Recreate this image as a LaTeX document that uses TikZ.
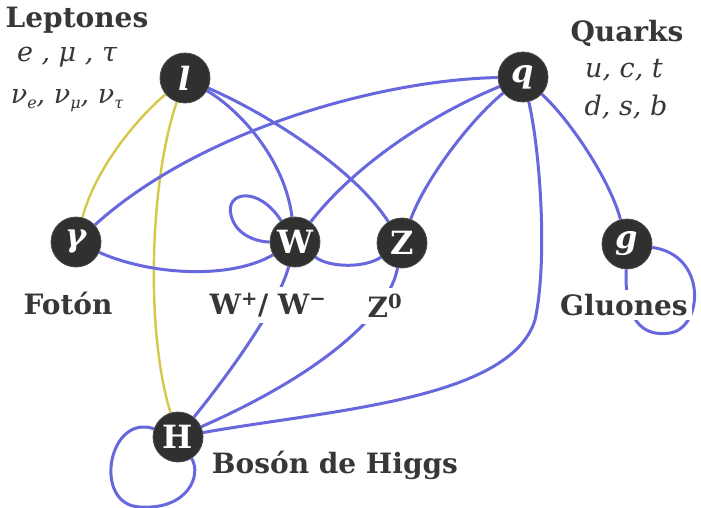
\documentclass[tikz,border=0pt]{standalone}
\usepackage{fontspec}
\setmainfont{DejaVu Serif}
\usetikzlibrary{backgrounds}
\definecolor{edgeblue}{RGB}{104,104,222}
\definecolor{edgeyellow}{RGB}{214,200,72}
\definecolor{nodefill}{RGB}{48,48,48}
\definecolor{labelgray}{RGB}{55,55,55}
\begin{document}
\begin{tikzpicture}[x=1pt,y=-1pt,
  particle/.style={circle, fill=nodefill, draw=gray!60!black, line width=0.8pt,
    minimum size=50pt, inner sep=0pt, text=white,
    font=\fontsize{32}{32}\selectfont\bfseries},
  title/.style={text=labelgray, font=\fontsize{28}{30}\selectfont\bfseries,
    fill=white, inner sep=4pt},
  members/.style={text=labelgray, font=\fontsize{27}{28}\selectfont\itshape, inner sep=1pt},
  blueline/.style={draw=edgeblue, line width=3pt},
  yellowline/.style={draw=edgeyellow, line width=2.4pt}]
\useasboundingbox (0,0) rectangle (701,508);

% particles
\node[particle] (l) at (185,78) {\itshape l};
\node[particle] (q) at (523,77) {\itshape q};
\node[particle] (gamma) at (76,242) {\itshape γ};
\node[particle] (W) at (295,242) {W};
\node[particle] (Z) at (402,243) {Z};
\node[particle] (g) at (627,244) {\itshape g};
\node[particle] (H) at (178,437) {H};

% labels
\node[title] (tlep) at (77,20) {Leptones};
\node[members] (mlep1) at (67,57) {e , μ , τ};
\node[members] (mlep2) at (67,101) {ν\raisebox{-0.35ex}{\fontsize{16}{16}\selectfont e}, ν\raisebox{-0.35ex}{\fontsize{16}{16}\selectfont μ}, ν\raisebox{-0.35ex}{\fontsize{16}{16}\selectfont τ}};
\node[title] (tqua) at (627,33) {Quarks};
\node[members] (mqua1) at (624,70) {u, c, t};
\node[members] (mqua2) at (626,107) {d, s, b};
\node[title] (tfot) at (68,303) {Fotón};
\node[title, inner sep=6pt] (tw) at (268,305) {W\textsuperscript{+}/ W\textsuperscript{−}};
\node[title, inner sep=6pt] (tz) at (385,306) {Z\textsuperscript{0}};
\node[title] (tglu) at (624,305) {Gluones};
\node[title] (thig) at (335,465) {Bosón de Higgs};

\begin{scope}[on background layer]
\fill[white] (0,0) rectangle (701,508);
% yellow
\draw[yellowline] (l) .. controls (135,120) and (95,170) .. (gamma);
\draw[yellowline] (l) .. controls (150,180) and (145,330) .. (H);
% from l
\draw[blueline] (l) .. controls (240,110) and (285,160) .. (W);
\draw[blueline] (l) .. controls (270,115) and (355,170) .. (Z);
% from q
\draw[blueline] (q) .. controls (380,80) and (200,130) .. (gamma);
\draw[blueline] (q) .. controls (430,115) and (355,165) .. (W);
\draw[blueline] (q) .. controls (470,120) and (425,180) .. (Z);
\draw[blueline] (q) .. controls (570,120) and (610,180) .. (g);
\draw[blueline] (q) .. controls (540,150) and (548,260) .. (535,320)
                    .. controls (510,400) and (330,410) .. (H);
% middle row
\draw[blueline] (gamma) .. controls (150,275) and (230,280) .. (W);
\draw[blueline] (W) .. controls (330,268) and (365,268) .. (Z);
\draw[blueline] (W) .. controls (258,185) and (225,192) .. (231,215)
                    .. controls (236,237) and (260,242) .. (W);
\draw[blueline] (W) .. controls (280,300) and (240,360) .. (H);
\draw[blueline] (Z) .. controls (390,310) and (330,370) .. (H);
% gluon loop
\draw[blueline] (g) .. controls (624,330) and (650,336) .. (670,333)
                    .. controls (703,328) and (708,255) .. (g);
% higgs loop
\draw[blueline] (H) .. controls (108,413) and (92,505) .. (140,507)
                    .. controls (188,510) and (202,475) .. (H);
\end{scope}
\end{tikzpicture}
\end{document}
